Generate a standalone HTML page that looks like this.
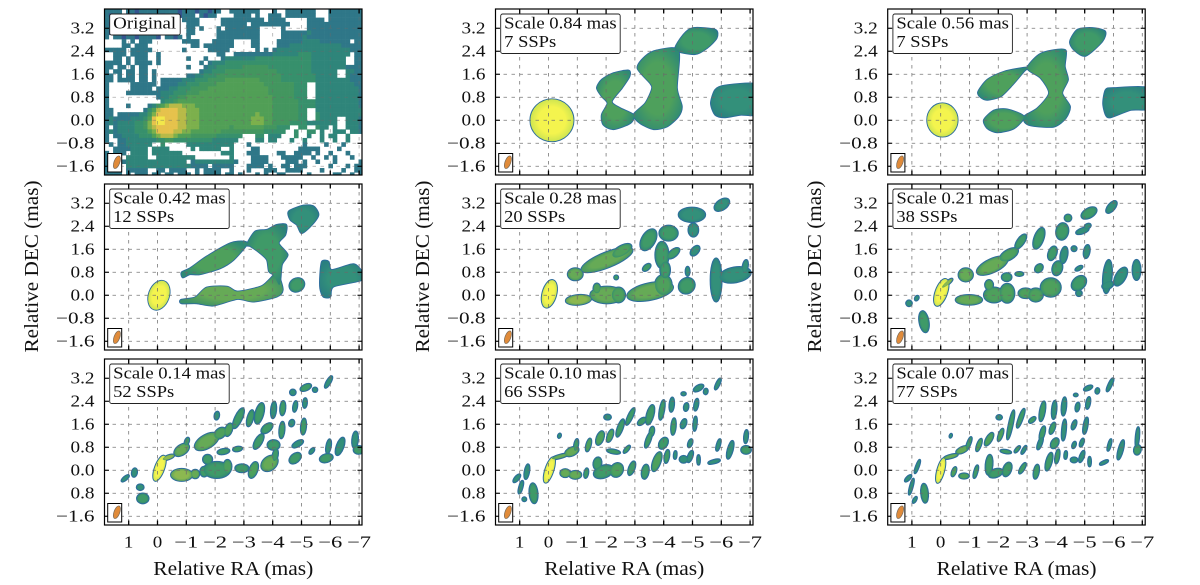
<!DOCTYPE html>
<html lang="en">
<head>
<meta charset="utf-8">
<title>Jet decomposition at multiple scales</title>
<style>
html,body{margin:0;padding:0;background:#fff;width:1200px;height:585px;overflow:hidden}
svg{display:block}
text{font-family:"Liberation Serif",serif;fill:#111}
</style>
</head>
<body>
<svg id="figure" xmlns="http://www.w3.org/2000/svg" width="1200" height="585" viewBox="0 0 1200 585"></svg>
<script>
// ---- Chart data (sky coordinates in mas) ----
const xTickLabels = ['1','0','\u22121','\u22122','\u22123','\u22124','\u22125','\u22126','\u22127'];
const xTickValues = [1,0,-1,-2,-3,-4,-5,-6,-7];
const yTickValues = [3.2,2.4,1.6,0.8,0,-0.8,-1.6];
const yTickLabelsUpper = ['3.2','2.4','1.6','0.8','0.0','\u22120.8','\u22121.6'];
const yTickLabelsBottom = ['3.2','2.4','1.6','0.8','0.0','0.8','\u22121.6'];
const panelTitles = [['Original'],['Scale 0.84 mas','7 SSPs'],['Scale 0.56 mas','7 SSPs'],['Scale 0.42 mas','12 SSPs'],['Scale 0.28 mas','20 SSPs'],['Scale 0.21 mas','38 SSPs'],['Scale 0.14 mas','52 SSPs'],['Scale 0.10 mas','66 SSPs'],['Scale 0.07 mas','77 SSPs']];
const beamCenter = [1.41, -1.46];
const beamAxes = [0.23, 0.1];
const beamTilt = 70;

// Original image intensity levels (. = blanked), one string per row, top to bottom
const heatRows = [
"1111.11011 1111111011 1011011..1 111111...1 ..1111111. ..11111111",
"1011.01101 0110111011 1.1011.... 1111.1..11 1.1111111. ..11111111",
"1101.01010 1101101.11 11.....111 1111111.11 11.....111 1.11111111",
"1011011011 1011011..1 11.....111 111.111111 111....111 1111111111",
"1101101101 0110111..1 1.1...1.11 111111.... .1.....111 1111111111",
"1011011011 1011011..1 1.....1111 111111.... .111111211 1111111111",
"1.11011011 110.1101.1 ......1111 111111.... .111112111 1111111111",
"....1.1.11 1.......11 11...11111 ....11.... 1111112222 1111111.11",
"....11.111 .......... 11.1111111 ....11.... 1112222222 2222211111",
"11111.1111 1.......1. ....11111. .....1.1.1 2222222222 2222222111",
"..111.1111 ..1....... ......11.. 1111111112 2222233322 2222222.11",
"..11.1.111 ..1......1 ...1...122 2222233333 3333333322 222222..11",
"1111.1.111 1.1....... ..1.122233 3333333333 3333333322 222222..11",
"11.11.1.11 .........1 ...1223333 3344444433 3333333322 2222221111",
"1.11.11.11 .1........ ..12233344 4444444444 3333333322 2222..2211",
"11.1.11.11 .1.......1 1223334444 4444444444 4333333332 2222..2111",
"11.1111.11 .1.1111122 2333444455 5555554444 4333333332 2222222111",
"1.....1111 11.1111223 3344445555 5555555444 4444333..2 2222222211",
"1.....1111 1.11122333 4444555555 5555555544 4444333..2 2222222221",
"1....11111 1112223334 4455555555 5555555544 4444333..2 2222222221",
"1......... ..12233445 5555555555 5555555554 4444333..2 2222222221",
"1......... ...2334555 5555555555 5555555554 4444433332 2222222221",
"1....1.... 1245677766 6555555555 5555555554 4444433332 2222222221",
"11.......1 3578888776 6655555555 5555555554 4444433..2 2222222222",
"11.1111122 4688888776 6655555555 5555565554 4444433..3 2222222222",
"1211112223 5899888776 6655555555 5555666554 4444433..3 2222..2221",
"1212222334 6899888776 6655555555 5555666554 4443333222 2222..2221",
"1.12222334 6788888776 6655555554 5555555444 333..33..3 22.2..2221",
"1212222333 5688887766 5555555444 4444444333 33..3..33. 2..222.221",
"1.11222233 3567776555 4444443333 33...33.22 2...3..2.. 2.22..2...",
"1..1122222 2233443333 3333322222 2....22.22 ...2..2... 2..2..2...",
".1.1122222 2..3.....2 2222222222 ...1...... ......1... .1...1....",
"..11112222 .2222..... 2.22222..2 ....11.... .....11111 ....1.....",
"1.111.2222 .2222222.. .......222 ...111.... 11..1111.1 ..1...1...",
"1111.22222 ..22222222 2........2 ....1111.. .11111..1. .1.1...1..",
"111.122222 222222222. 1222222222 1...1111.. ..111.1..1 ...1.....1",
"1111.22222 2222222222 1111.11111 ...1111.1. .11.111... ..1...1.11",
"1111.11111 ..11.1111. .1.1111..1 ...1...111 ..1111.... 1....1..11",
"1111.1.111 .11.11.111 .1.1111.11 .1...1.1.. 11.....1.. ...11..1.1"
];
const heatCellMas = 0.1495;

// Components: [RA, DEC, semi-major, semi-minor, tilt deg, intensity level]
const blobs084 = [[-0.12,0,0.75,0.73,0,9]];
const blobs056 = [[-0.06,0.01,0.53,0.58,0,9]];
const blobs042 = [[-0.05,0,0.52,0.35,70,9],[-4.84,0.36,0.27,0.23,30,3]];
const blobs028 = [
[-0.03,0.05,0.49,0.24,75,9],[-0.93,0.73,0.26,0.21,0,5],[-2.03,1.23,0.95,0.26,22,5],[-2.55,1.55,0.37,0.17,30,4],
[-1.04,-0.16,0.44,0.17,5,6],[-2.03,0.01,0.58,0.29,0,5],[-1.68,0.24,0.12,0.17,0,4],[-2.43,0.01,0.23,0.26,0,4],
[-3.53,0.13,0.81,0.29,12,5],[-3.99,0.36,0.29,0.35,0,4],[-2.35,0.62,0.07,0.07,0,3],[-4.8,0.33,0.29,0.26,40,3],[-4.83,0.83,0.16,0.07,90,2],
[-3.47,1.93,0.4,0.23,60,3],[-4.17,2.16,0.32,0.26,0,3],[-3.94,1.4,0.46,0.23,90,3],[-4.05,0.88,0.29,0.17,90,3],[-4.34,1.46,0.25,0.12,40,3],
[-3.41,0.97,0.16,0.09,40,3],[-5.09,1.55,0.2,0.12,50,2],[-4.98,2.8,0.46,0.25,0,2],[-5.03,2.27,0.17,0.23,0,2],[-6.02,3.15,0.29,0.17,35,2],
[-5.82,0.53,0.75,0.19,90,2],[-6.48,0.71,0.55,0.26,10,2],[-6.83,1.0,0.23,0.09,80,2]];
const blobs021 = [
[-0.02,0.1,0.49,0.2,70,9],[-0.23,0.42,0.23,0.06,40,6],[1.1,-0.28,0.1,0.1,0,2],[0.83,-0.1,0.09,0.06,60,2],[0.58,-0.92,0.37,0.16,100,3],
[-0.87,0.71,0.25,0.23,0,5],[-1.79,1.03,0.58,0.23,25,5],[-2.37,1.41,0.35,0.17,30,4],[-2.78,1.87,0.29,0.12,55,3],
[-0.98,-0.16,0.46,0.17,0,5],[-1.85,0.01,0.35,0.26,0,4],[-1.68,0.36,0.14,0.17,0,4],[-2.31,0.07,0.25,0.33,0,4],[-2.29,0.63,0.17,0.14,0,3],[-2.73,0.74,0.14,0.07,0,3],
[-2.95,0.07,0.25,0.17,0,4],[-3.3,0.01,0.25,0.23,0,4],[-3.82,0.27,0.35,0.32,0,4],[-3.41,1.98,0.38,0.16,70,3],[-4.22,2.22,0.29,0.21,80,3],
[-3.88,1.46,0.25,0.14,70,3],[-4.28,1.4,0.29,0.12,80,2],[-4.05,0.94,0.25,0.17,75,3],[-3.41,0.94,0.16,0.12,50,3],[-4.8,0.42,0.29,0.21,45,3],
[-4.8,0.07,0.1,0.1,0,2],[-4.8,0.94,0.14,0.06,30,2],[-4.63,1.62,0.09,0.09,0,2],[-5.07,1.52,0.23,0.1,80,2],[-4.92,2.24,0.23,0.09,20,2],[-5.1,2.4,0.12,0.08,30,2],
[-4.42,2.69,0.12,0.12,0,3],[-5.15,2.86,0.29,0.16,30,3],[-5.93,3.07,0.25,0.12,50,2],[-5.79,0.65,0.58,0.15,85,2],[-6.25,0.65,0.35,0.17,60,2],[-6.8,0.88,0.35,0.14,90,2],[-5.8,0.35,0.2,0.12,20,2]];
const blobs014 = [
[-0.07,0.07,0.46,0.16,70,9],[-0.38,0.45,0.21,0.07,20,6],[1.12,-0.28,0.16,0.06,40,2],[0.8,-0.08,0.15,0.09,80,2],[0.6,-0.59,0.12,0.1,0,2],[0.51,-0.98,0.2,0.17,0,3],
[-0.84,0.71,0.29,0.17,35,5],[-1.02,1.0,0.14,0.07,70,3],[-1.71,1.0,0.46,0.23,30,5],[-2.18,1.29,0.23,0.16,40,4],[-2.47,1.41,0.23,0.12,70,4],[-2.81,1.81,0.38,0.12,65,3],[-2.06,1.9,0.14,0.08,80,2],
[-0.84,-0.16,0.37,0.21,0,6],[-1.31,-0.13,0.14,0.15,0,5],[-1.62,-0.05,0.14,0.17,0,3],[-1.74,0.38,0.16,0.16,0,3],[-2.06,0.01,0.46,0.28,0,3],[-2.43,0.13,0.14,0.23,0,4],
[-2.29,0.65,0.21,0.09,10,3],[-2.78,0.74,0.16,0.08,10,3],[-2.93,0.07,0.23,0.14,0,3],[-3.33,0.01,0.29,0.14,70,4],[-3.89,0.24,0.32,0.23,40,5],[-4.09,0.53,0.21,0.09,80,3],
[-3.22,1.81,0.29,0.1,75,3],[-3.54,1.98,0.37,0.14,75,3],[-4.03,2.1,0.29,0.09,85,2],[-4.35,2.16,0.25,0.09,85,3],[-3.51,1.0,0.29,0.12,60,3],[-3.8,1.46,0.23,0.13,40,3],[-4.32,1.4,0.29,0.09,85,3],[-4.03,0.88,0.21,0.17,0,3],
[-4.66,1.64,0.12,0.09,70,2],[-5.07,1.52,0.28,0.09,85,3],[-4.78,2.22,0.19,0.07,80,2],[-5.12,2.34,0.17,0.07,85,2],[-4.7,2.71,0.1,0.1,0,2],[-5.15,2.88,0.2,0.1,25,3],[-5.47,2.8,0.08,0.08,0,2],[-5.94,3.07,0.23,0.07,60,2],
[-4.78,0.42,0.23,0.15,40,3],[-4.87,0.92,0.21,0.09,30,2],[-5.36,0.67,0.12,0.06,50,2],[-5.86,0.42,0.23,0.14,15,3],[-5.94,0.83,0.25,0.08,80,2],[-6.34,0.83,0.32,0.12,70,2],[-6.86,1.06,0.29,0.1,85,2],[-6.98,0.71,0.17,0.14,0,3]];
const blobs010 = [
[-0.03,0.01,0.46,0.14,72,9],[-0.4,0.48,0.29,0.06,15,5],[1.1,-0.28,0.17,0.07,50,2],[0.75,-0.05,0.26,0.08,80,2],[0.96,-0.59,0.23,0.06,75,2],[0.84,-1.01,0.07,0.07,0,2],[0.52,-0.8,0.35,0.14,95,3],[-0.38,1.2,0.08,0.05,70,2],
[-0.81,0.65,0.25,0.14,25,5],[-0.96,0.88,0.21,0.07,80,3],[-1.39,0.88,0.23,0.08,75,4],[-1.79,1.12,0.25,0.12,70,4],[-2.14,1.2,0.23,0.09,70,4],[-2.49,1.47,0.32,0.09,70,3],[-2.84,1.87,0.32,0.08,65,3],[-2.05,1.85,0.12,0.09,0,2],
[-0.58,-0.1,0.17,0.14,0,5],[-0.93,-0.16,0.21,0.14,0,5],[-1.31,-0.1,0.17,0.07,80,3],[-1.7,0.24,0.21,0.14,80,3],[-1.91,-0.05,0.35,0.21,20,3],[-2.37,0.01,0.25,0.21,60,4],[-2.26,0.65,0.23,0.07,-10,3],[-2.72,0.73,0.16,0.06,50,3],
[-2.89,0.07,0.25,0.1,70,3],[-3.36,-0.05,0.25,0.12,80,3],[-3.76,0.3,0.35,0.13,70,4],[-4.11,0.48,0.23,0.08,80,3],[-3.53,1.93,0.35,0.12,75,3],[-3.24,1.7,0.17,0.09,40,3],[-3.94,2.1,0.35,0.08,80,3],[-4.28,2.28,0.25,0.08,85,2],[-4.78,2.2,0.14,0.08,80,2],[-5.13,2.28,0.21,0.07,80,2],
[-3.59,1.35,0.17,0.08,80,3],[-3.47,1.06,0.29,0.08,70,3],[-3.99,0.94,0.21,0.14,60,3],[-4.34,1.52,0.29,0.08,85,3],[-4.69,1.62,0.17,0.09,70,2],[-5.09,1.62,0.25,0.06,85,2],[-4.4,0.53,0.14,0.05,85,2],[-4.69,0.38,0.14,0.12,0,2],[-4.92,0.48,0.21,0.08,70,2],[-5.21,0.36,0.17,0.05,90,2],[-4.92,0.94,0.15,0.07,70,2],
[-4.69,2.66,0.08,0.06,0,2],[-5.21,2.86,0.19,0.09,30,2],[-5.46,2.74,0.1,0.07,80,2],[-5.88,3.0,0.21,0.06,65,2],[-5.75,0.3,0.21,0.06,15,2],[-5.9,0.88,0.21,0.06,75,2],[-6.31,0.71,0.32,0.09,75,2],[-6.86,0.71,0.17,0.14,0,3],[-6.86,1.17,0.23,0.07,85,2]];
const blobs007 = [
[0,-0.01,0.44,0.12,75,9],[-0.35,0.48,0.25,0.06,15,5],[1.13,-0.28,0.15,0.06,45,2],[0.81,0.13,0.25,0.05,70,2],[1.02,-0.57,0.29,0.05,75,2],[0.9,-1.03,0.12,0.05,60,2],[0.56,-0.8,0.33,0.12,95,3],[-0.35,1.2,0.07,0.04,70,2],
[-0.75,0.71,0.23,0.1,25,5],[-0.98,0.94,0.23,0.06,70,3],[-1.33,0.88,0.23,0.07,70,4],[-1.68,1.08,0.25,0.1,60,4],[-2.08,1.23,0.23,0.07,70,4],[-2.43,1.58,0.52,0.07,78,3],[-2.78,1.81,0.35,0.07,70,3],[-2.03,1.84,0.1,0.08,0,2],
[-0.46,-0.05,0.17,0.07,70,4],[-0.81,-0.2,0.17,0.09,0,4],[-1.22,-0.05,0.23,0.06,75,3],[-1.68,0.19,0.35,0.12,85,3],[-1.91,-0.1,0.25,0.14,20,3],[-2.31,0.03,0.25,0.14,70,3],[-2.26,0.65,0.19,0.06,-10,3],[-2.66,0.73,0.14,0.05,50,3],[-2.89,0.71,0.16,0.05,60,2],
[-2.84,0.07,0.21,0.07,60,3],[-3.32,-0.05,0.25,0.09,80,3],[-3.76,0.3,0.32,0.1,75,3],[-4.05,0.48,0.25,0.07,80,3],[-4.34,0.53,0.14,0.05,85,2],[-4.63,0.36,0.12,0.09,0,2],[-4.9,0.48,0.21,0.07,70,2],[-5.17,0.3,0.17,0.05,90,2],
[-3.53,2.05,0.35,0.09,80,3],[-3.18,1.75,0.14,0.07,40,3],[-3.94,2.1,0.32,0.08,85,2],[-4.28,2.22,0.32,0.08,85,2],[-4.75,2.2,0.16,0.07,80,2],[-5.12,2.34,0.21,0.07,80,2],
[-3.53,1.29,0.25,0.08,75,3],[-3.45,0.94,0.23,0.07,70,2],[-3.96,0.94,0.19,0.12,60,3],[-3.88,1.46,0.21,0.08,70,3],[-4.28,1.4,0.37,0.07,85,2],[-4.63,1.58,0.17,0.07,70,2],[-5.03,1.55,0.29,0.07,80,2],[-4.63,0.88,0.12,0.06,70,2],[-4.9,0.96,0.15,0.06,70,2],
[-4.69,2.62,0.07,0.05,0,2],[-5.12,2.86,0.16,0.07,25,2],[-5.44,2.76,0.1,0.07,80,2],[-5.88,2.97,0.25,0.06,65,2],[-5.67,0.27,0.16,0.05,25,2],[-5.86,0.88,0.21,0.05,75,2],[-6.25,0.71,0.35,0.08,75,2],[-6.83,0.71,0.17,0.12,80,3],[-6.83,1.15,0.35,0.06,85,2]];
const panelBlobs = [null,blobs084,blobs056,blobs042,blobs028,blobs021,blobs014,blobs010,blobs007];

// Extended emission outlines: intensity level, then [RA, DEC] vertices
const outlines084 = [
[4,[-1.68,1.12],[-1.85,1.41],[-2.26,1.64],[-2.78,1.73],[-2.81,1.52],[-2.55,1.12],[-2.2,0.65],[-2.49,0.42],[-2.95,0.19],[-2.84,-0.1],[-2.26,-0.31],[-1.91,-0.16],[-1.85,0.19],[-2.05,0.59],[-1.85,0.83]],
[4,[-2.95,0.19],[-3.36,0.59],[-3.59,1.08],[-3.53,1.29],[-3.09,1.81],[-3.36,2.22],[-3.76,2.43],[-4.51,2.43],[-4.46,1.12],[-4.63,0.48],[-4.51,0.13],[-4.11,-0.22],[-3.65,-0.31],[-3.18,-0.1]],
[3,[-4.4,2.45],[-4.69,2.98],[-5.03,3.21],[-5.79,3.15],[-5.84,2.86],[-5.5,2.51],[-5.09,2.3]],
[2,[-5.64,0.59],[-5.79,1.06],[-6.13,1.21],[-7.29,1.23],[-7.29,0.24],[-6.66,0.19],[-6.13,0.1],[-5.79,0.19]]];
const outlines056 = [
[4,[-1.3,0.99],[-1.62,1.41],[-2.2,1.69],[-3.01,1.84],[-2.89,1.7],[-2.49,1.23],[-2.08,0.83],[-1.62,0.71],[-1.39,0.8]],
[4,[-1.5,0.01],[-1.85,0.34],[-2.31,0.38],[-2.89,0.13],[-2.55,-0.28],[-1.97,-0.42],[-1.62,-0.28]],
[4,[-2.89,0.13],[-3.36,0.42],[-3.76,0.94],[-3.47,1.47],[-3.01,1.81],[-3.41,2.28],[-3.88,2.43],[-4.34,2.43],[-4.31,1.87],[-4.42,1.41],[-4.22,0.94],[-4.49,0.48],[-4.34,0.07],[-3.94,-0.22],[-3.24,-0.2],[-2.95,-0.1]],
[3,[-4.49,2.74],[-4.75,3.15],[-5.27,3.21],[-5.71,3.09],[-5.61,2.74],[-5.03,2.24],[-4.63,2.45]],
[2,[-5.64,0.59],[-5.73,1.06],[-6.02,1.12],[-7.23,1.12],[-7.23,0.42],[-6.6,0.36],[-5.9,0.1],[-5.73,0.19]]];
const outlines042 = [
[4,[-0.84,0.8],[-1.13,0.94],[-1.71,1.35],[-2.53,1.81],[-2.99,1.87],[-3.1,1.76],[-2.64,1.23],[-2.18,0.94],[-1.48,0.73],[-1.13,0.73],[-0.88,0.62]],
[5,[-0.82,-0.16],[-1.31,-0.07],[-1.71,0.27],[-2.41,0.3],[-2.78,0.13],[-3.58,0.3],[-3.87,0.53],[-4.05,0.71],[-4.2,0.71],[-4.35,0.19],[-4.14,-0.05],[-3.33,-0.22],[-2.78,-0.13],[-1.94,-0.36],[-1.36,-0.28],[-0.84,-0.28]],
[3,[-3.1,1.76],[-3.39,2.22],[-3.8,2.28],[-4.14,2.45],[-4.47,2.45],[-4.44,2.1],[-4.21,1.81],[-4.52,1.41],[-4.32,1.06],[-4.24,0.36],[-4.03,0.71],[-3.87,0.83],[-3.8,1.23],[-3.56,1.47],[-3.22,1.71]],
[2,[-4.56,2.92],[-5.07,3.12],[-5.42,3.09],[-5.59,2.8],[-5.36,2.45],[-5.01,2.16],[-4.84,2.45],[-4.61,2.63]],
[2,[-5.65,0.71],[-5.71,1.17],[-5.94,1.17],[-6.05,0.88],[-6.8,1.08],[-7.09,0.82],[-7.09,0.53],[-6.11,0.3],[-6,-0.05],[-5.76,-0.05],[-5.65,0.24]]];
const panelOutlines = [null,outlines084,outlines056,outlines042,[],[],[],[],[]];

// ---- Drawing ----
const NS = 'http://www.w3.org/2000/svg';
const svg = document.getElementById('figure');
const levelColors = ['#34548f','#2f7788','#2f857a','#37906c','#43965f','#519f56','#7cb04c','#b8ba48','#e6c24c','#f2e84a'];
const blobCenter = {2:'#33907a',3:'#3f9a68',4:'#4ea05c',5:'#66aa56',6:'#8cb850',9:'#f4f44e'};
const blobEdge = {2:'#2a7f80',3:'#2c8278',4:'#2f8a74',5:'#3a9068',6:'#4a9a60',9:'#bede52'};
const colLefts = [104.5,495.5,887.7];
const rowTops = [9,184,359];
const plotW = 257.5, plotH = 166;
const raMax = 1.84, decMax = 3.87, pxPerRa = 28.8, pxPerDec = 28.75;
const xOf = (ra, left) => left + (raMax - ra) * pxPerRa;
const yOf = (dec, top) => top + (decMax - dec) * pxPerDec;

function mk(tag, attrs, parent) {
  const el = document.createElementNS(NS, tag);
  for (const k in attrs) el.setAttribute(k, attrs[k]);
  parent.appendChild(el);
  return el;
}
function labelWidth(s) {
  let w = 0;
  for (const ch of s) w += ch === '\u2212' ? 14.5 : ch === '.' ? 5 : 9.5;
  return w;
}
function smoothPath(pts) {
  const n = pts.length;
  let d = 'M' + pts[0][0].toFixed(2) + ' ' + pts[0][1].toFixed(2);
  for (let i = 0; i < n; i++) {
    const p0 = pts[(i - 1 + n) % n], p1 = pts[i], p2 = pts[(i + 1) % n], p3 = pts[(i + 2) % n];
    const k = 0.13;
    d += 'C' + (p1[0] + (p2[0] - p0[0]) * k).toFixed(2) + ' ' + (p1[1] + (p2[1] - p0[1]) * k).toFixed(2) + ' ' +
         (p2[0] - (p3[0] - p1[0]) * k).toFixed(2) + ' ' + (p2[1] - (p3[1] - p1[1]) * k).toFixed(2) + ' ' +
         p2[0].toFixed(2) + ' ' + p2[1].toFixed(2);
  }
  return d + 'Z';
}

const defs = mk('defs', {}, svg);
Object.keys(blobCenter).forEach(l => {
  const grad = mk('radialGradient', {id: 'lvl' + l, cx: '50%', cy: '50%', r: '58%'}, defs);
  mk('stop', {offset: '0%', 'stop-color': blobCenter[l]}, grad);
  mk('stop', {offset: '55%', 'stop-color': blobCenter[l]}, grad);
  mk('stop', {offset: '100%', 'stop-color': blobEdge[l]}, grad);
});

panelTitles.forEach((titleLines, idx) => {
  const col = idx % 3, row = Math.floor(idx / 3);
  const L = colLefts[col], T = rowTops[row];
  const g = mk('g', {}, svg);
  
  

  const cp = mk('clipPath', {id: 'clip' + idx}, defs);
  mk('rect', {x: L, y: T, width: plotW, height: plotH}, cp);
  const data = mk('g', {'clip-path': 'url(#clip' + idx + ')'}, g);
  
  

  if (idx === 0) {
    heatRows.forEach((rowStr, r) => {
      const cells = rowStr.replace(/ /g, '');
      for (let c = 0; c < cells.length; c++) {
        if (cells[c] === '.') continue;
        const x1 = xOf(raMax - c * heatCellMas, L), x2 = xOf(raMax - (c + 1) * heatCellMas, L);
        const y1 = yOf(decMax - r * heatCellMas, T), y2 = yOf(decMax - (r + 1) * heatCellMas, T);
        const cell = mk('rect', {x: x1.toFixed(2), y: y1.toFixed(2), width: (x2 - x1 + 0.3).toFixed(2), height: (y2 - y1 + 0.3).toFixed(2), fill: levelColors[+cells[c]]}, data);
        
        
      }
    });
  } else {
    const blobs = panelBlobs[idx];
    const outlines = panelOutlines[idx];
    const outlineW = idx < 4 ? 1.8 : 2;
    [0, 1].forEach(pass => {
      outlines.forEach(o => {
        const pts = o.slice(1).map(p => [xOf(p[0], L), yOf(p[1], T)]);
        const attrs = {d: smoothPath(pts)};
        if (pass === 0) { attrs.fill = '#2d6c9c'; attrs.stroke = '#2d6c9c'; attrs['stroke-width'] = outlineW; attrs['stroke-linejoin'] = 'round'; }
        else attrs.fill = 'url(#lvl' + o[0] + ')';
        const e = mk('path', attrs, data);
        
        
      });
      blobs.forEach(b => {
        const cx = xOf(b[0], L), cy = yOf(b[1], T);
        const attrs = {cx: cx.toFixed(2), cy: cy.toFixed(2), rx: (b[2] * pxPerRa).toFixed(2), ry: (b[3] * pxPerDec).toFixed(2), transform: 'rotate(' + (-b[4]) + ' ' + cx.toFixed(2) + ' ' + cy.toFixed(2) + ')'};
        if (pass === 0) { attrs.fill = '#2d6c9c'; attrs.stroke = '#2d6c9c'; attrs['stroke-width'] = outlineW; }
        else attrs.fill = 'url(#lvl' + b[5] + ')';
        const e = mk('ellipse', attrs, data);
        
        
      });
    });
  }

  // grid
  const grid = mk('g', {stroke: '#6a6a6a', 'stroke-width': 0.8, 'stroke-dasharray': '3.5 4.5', fill: 'none', opacity: idx === 0 ? 0.55 : 0.9}, g);
  
  
  xTickValues.forEach(v => mk('line', {x1: xOf(v, L), x2: xOf(v, L), y1: T, y2: T + plotH}, grid));
  yTickValues.forEach(v => mk('line', {x1: L, x2: L + plotW, y1: yOf(v, T), y2: yOf(v, T)}, grid));

  // ticks
  const ticks = mk('g', {stroke: '#000', fill: 'none'}, g);
  
  
  xTickValues.forEach(v => {
    const x = xOf(v, L);
    mk('line', {x1: x, x2: x, y1: T, y2: T + 4.5, 'stroke-width': 1.3}, ticks);
    mk('line', {x1: x, x2: x, y1: T + plotH, y2: T + plotH - 4.5, 'stroke-width': 1.3}, ticks);
  });
  yTickValues.forEach(v => {
    const y = yOf(v, T);
    mk('line', {x1: L, x2: L + 4.5, y1: y, y2: y, 'stroke-width': 1.1}, ticks);
    mk('line', {x1: L + plotW, x2: L + plotW - 4.5, y1: y, y2: y, 'stroke-width': 1.1}, ticks);
  });

  // frame
  const frame = mk('rect', {x: L, y: T, width: plotW, height: plotH, fill: 'none', stroke: '#000', 'stroke-width': 1.2}, g);
  
  

  // beam inset
  const bx = L + 3.2, by = T + 144.5;
  const beamBox = mk('rect', {x: bx, y: by, width: 14, height: 18.5, fill: '#fff', stroke: '#000', 'stroke-width': 1}, g);
  
  
  const bcx = xOf(beamCenter[0], L), bcy = yOf(beamCenter[1], T);
  const beam = mk('ellipse', {cx: bcx, cy: bcy, rx: beamAxes[0] * pxPerRa, ry: beamAxes[1] * pxPerDec, fill: '#e08b3a', stroke: '#7a6a58', 'stroke-width': 0.7, transform: 'rotate(' + (-beamTilt) + ' ' + bcx + ' ' + bcy + ')'}, g);
  
  

  // legend box
  const isOrig = titleLines.length === 1;
  const boxW = isOrig ? 70.5 : 119.5, boxH = isOrig ? 21 : 39.5;
  const box = mk('rect', {x: L + 5.2, y: T + 5, width: boxW, height: boxH, rx: 2, ry: 2, fill: '#fff', stroke: '#222', 'stroke-width': 0.9}, g);
  
  
  titleLines.forEach((line, i) => {
    const w = i === 0 ? (isOrig ? 63 : 112.5) : (line.length === 6 ? 52 : 61);
    const t = mk('text', {x: L + 8.7, y: T + 19.6 + i * 18.2, 'font-size': 16.5, textLength: w, lengthAdjust: 'spacingAndGlyphs'}, g);
    t.textContent = line;
    
    
  });

  // y tick labels
  const yLabels = row === 2 ? yTickLabelsBottom : yTickLabelsUpper;
  yTickValues.forEach((v, i) => {
    const t = mk('text', {x: L - 10, y: yOf(v, T) + 5.4, 'font-size': 16.5, 'text-anchor': 'end', textLength: labelWidth(yLabels[i]), lengthAdjust: 'spacingAndGlyphs'}, g);
    t.textContent = yLabels[i];
    
    
  });

  // x axis labels on bottom row
  if (row === 2) {
    xTickValues.forEach((v, i) => {
      const t = mk('text', {x: xOf(v, L), y: T + plotH + 22.3, 'font-size': 16.5, 'text-anchor': 'middle', textLength: labelWidth(xTickLabels[i]), lengthAdjust: 'spacingAndGlyphs'}, g);
      t.textContent = xTickLabels[i];
      
      
    });
    const xt = mk('text', {x: L + 128.8, y: 575, 'font-size': 19.5, 'text-anchor': 'middle', textLength: 160, lengthAdjust: 'spacingAndGlyphs'}, g);
    xt.textContent = 'Relative RA (mas)';
    
    
  }

  // y axis title on middle row
  if (row === 1) {
    const px = L - 66.5, py = 266.5;
    const yt = mk('text', {x: px, y: py, 'font-size': 19.5, 'text-anchor': 'middle', textLength: 172, lengthAdjust: 'spacingAndGlyphs', transform: 'rotate(-90 ' + px + ' ' + py + ')'}, g);
    yt.textContent = 'Relative DEC (mas)';
    
    
  }
});
</script>
</body>
</html>
